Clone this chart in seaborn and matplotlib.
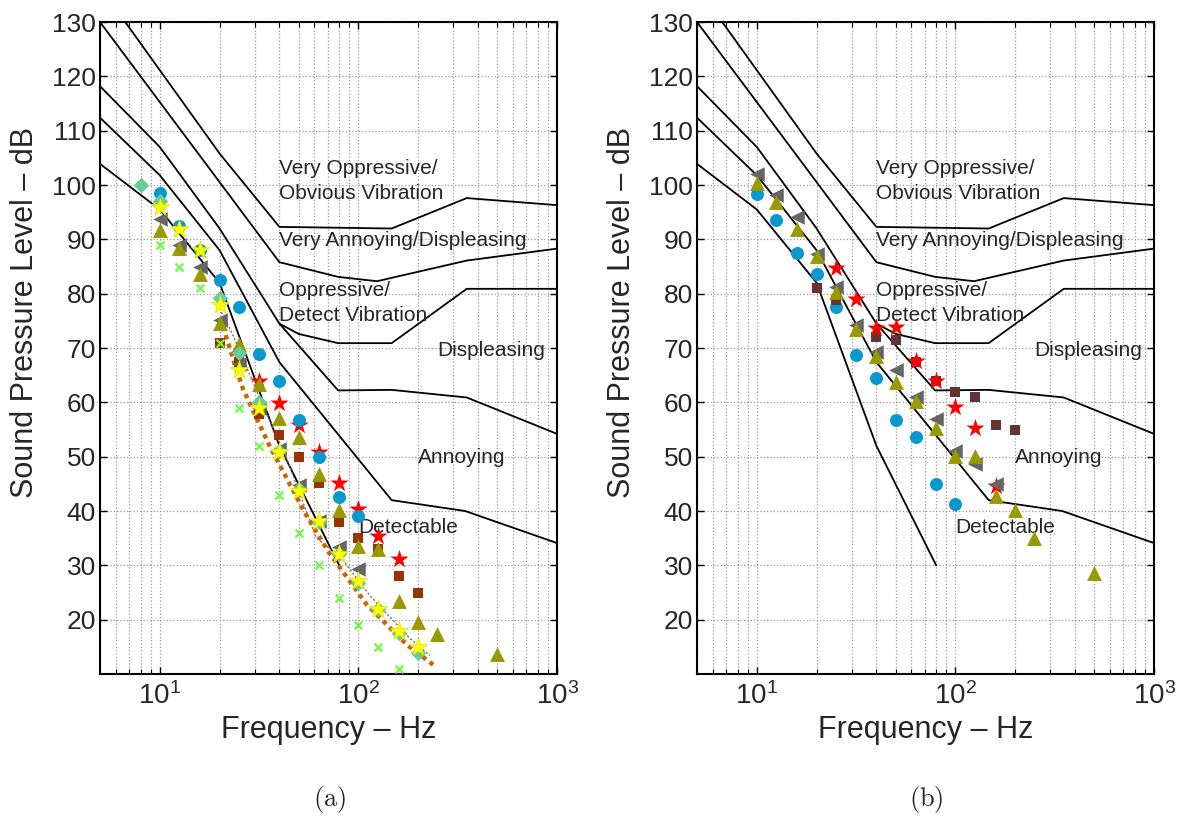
import numpy as np
import pandas as pd
import matplotlib
matplotlib.use('Agg')
import matplotlib.pyplot as plt
from matplotlib.ticker import FixedLocator, LogLocator, NullFormatter
import seaborn as sns

# ---- criterion curves (frequency Hz, level dB), same in both panels ----
vop_f = [6.7, 20, 40, 147, 351, 1000]
vop_db = [130, 105.8, 92.3, 92.0, 97.6, 96.3]
van_f = [5, 40, 79, 124, 351, 1000]
van_db = [130, 85.8, 83.1, 82.3, 86.1, 88.3]
opp_f = [5, 10, 20, 40, 50, 79, 147, 351, 1000]
opp_db = [118.2, 107, 92, 74.5, 72.6, 70.9, 70.9, 80.9, 80.9]
dsp_f = [40, 79, 147, 351, 1000]
dsp_db = [74.5, 62.2, 62.3, 60.9, 54.2]
ann_f = [5, 10, 20, 40, 147, 345, 1000]
ann_db = [112.4, 101.8, 88, 67.4, 42.0, 40.0, 34.1]
det_f = [5, 10, 20, 40, 80]
det_db = [103.9, 95.5, 82, 52, 30]

region_labels = ['Very Oppressive/', 'Obvious Vibration', 'Very Annoying/Displeasing',
                 'Oppressive/', 'Detect Vibration', 'Displeasing', 'Annoying', 'Detectable']
label_f = [40, 40, 40, 40, 40, 250, 200, 100]
label_db = [103.1, 98.5, 89.8, 80.6, 76.0, 69.5, 49.8, 37.0]

# ---- panel (a) data ----
a_diam_f = [8, 10, 20, 25, 31.5, 40, 50, 63, 80, 100, 125, 160, 200]
a_diam_db = [100, 97, 79.3, 69, 60, 51, 44, 38, 32, 26.8, 22, 17.6, 13.9]
a_ystar_f = [10, 12.5, 16, 20, 25, 31.5, 40, 50, 63, 80, 100, 125, 160, 200]
a_ystar_db = [96, 92, 88, 78, 66, 59, 50.8, 43.7, 38.2, 32, 27.1, 21.9, 17.9, 14.9]
a_circ_f = [10, 12.5, 16, 20, 25, 31.5, 40, 50, 63, 80, 100]
a_circ_db = [98.6, 92.5, 88.1, 82.6, 77.6, 68.9, 63.9, 56.8, 50.0, 42.6, 39.1]
a_rstar_f = [31.5, 40, 50, 63, 80, 100, 125, 160]
a_rstar_db = [63.9, 59.8, 55.9, 50.8, 45.2, 40.3, 35.4, 31.1]
a_sq_f = [20, 25, 31.5, 40, 50, 63, 80, 100, 125, 160, 200]
a_sq_db = [71, 67.4, 57.9, 54, 50, 45.1, 38, 35, 33.1, 28, 24.9]
a_olive_f = [10, 12.5, 16, 20, 25, 31.5, 40, 50, 63, 80, 100, 125, 160, 200, 250, 500]
a_olive_db = [91.8, 88.5, 83.6, 74.6, 70.8, 63.4, 57.1, 53.7, 46.9, 40.1, 33.6, 33.0, 23.4, 19.5, 17.4, 13.6]
a_gray_f = [10, 12.5, 16, 20, 25, 31.5, 40, 50, 63, 80, 100]
a_gray_db = [93.8, 88.9, 85, 75.1, 67, 59, 51.4, 44.8, 38.2, 33.3, 29.3]
a_x_f = [10, 12.5, 16, 20, 25, 31.5, 40, 50, 63, 80, 100, 125, 160]
a_x_db = [88.9, 84.9, 81, 70.9, 59, 52, 43, 36, 30, 24, 19, 15, 11]
a_orange_f = [20.2, 23.8, 26.2, 30, 35.7, 53.7, 70.3, 110, 175, 238]
a_orange_db = [75.5, 67.1, 62.5, 57.9, 52.0, 39.7, 32.6, 22.8, 15.4, 11.7]
a_hatch_f = [20.4, 22.8, 32.3, 43.6, 61.3, 81.7, 115, 181, 229]
a_hatch_db = [76.6, 73.2, 60.3, 49.6, 35.1, 31.4, 24.3, 16.6, 13.4]

# ---- panel (b) data ----
b_gray_f = [10, 12.5, 16, 20, 25, 31.5, 40, 50, 63, 80, 100, 125, 160]
b_gray_db = [102.1, 98.1, 94.1, 87.4, 81.2, 74.2, 69.2, 66.0, 60.9, 56.9, 51.1, 48.7, 44.9]
b_olive_f = [10, 12.5, 16, 20, 25, 31.5, 40, 50, 63, 80, 100, 125, 160, 200, 250, 500]
b_olive_db = [100.3, 96.9, 92.0, 86.9, 80.3, 73.5, 68.6, 63.7, 60.3, 55.3, 50.2, 50.2, 42.8, 40.1, 35.1, 28.6]
b_circ_f = [10, 12.5, 16, 20, 25, 31.5, 40, 50, 63, 80, 100]
b_circ_db = [98.4, 93.6, 87.5, 83.7, 77.5, 68.8, 64.5, 56.8, 53.7, 44.9, 41.3]
b_rstar_f = [25, 31.5, 40, 50, 63, 80, 100, 125, 160]
b_rstar_db = [84.8, 79.1, 73.6, 73.9, 67.6, 63.9, 59.2, 55.3, 44.6]
b_sq_f = [20, 25, 40, 50, 63, 80, 100, 125, 160, 200]
b_sq_db = [81.1, 78.8, 72.0, 71.4, 67.5, 64, 62.0, 61.0, 55.9, 55.0]

BLUE = '#0a99cf'
OLIVE = '#999900'
GRAY = '#666666'
RED = '#ff0000'
MINT = '#66cc99'
YEL = '#ffff00'
LIME = '#66ff33'

sns.set_style('white')
plt.rcParams['font.family'] = ['Liberation Sans', 'DejaVu Sans']
plt.rcParams['mathtext.fontset'] = 'cm'

fig = plt.figure(figsize=(11.78, 8.17), dpi=100)
ax_a = fig.add_axes([0.0849, 0.175, 0.388, 0.798])
ax_b = fig.add_axes([0.5917, 0.175, 0.388, 0.798])


def line(ax, f, db, **kw):
    sns.lineplot(x=f, y=db, ax=ax, sort=False, estimator=None, **kw)


def pts(ax, f, db, marker, s, color, ec=None, lw=0.0, z=3):
    kw = dict(marker=marker, s=s, color=color, linewidth=lw, zorder=z)
    if ec is not None:
        kw['edgecolor'] = ec
    sns.scatterplot(x=f, y=db, ax=ax, **kw)


def setup(ax):
    for f, db in [(vop_f, vop_db), (van_f, van_db), (opp_f, opp_db),
                  (dsp_f, dsp_db), (ann_f, ann_db), (det_f, det_db)]:
        line(ax, f, db, color='black', lw=1.3, zorder=2)
    for txt, f, db in zip(region_labels, label_f, label_db):
        ax.text(f, db, txt, fontsize=15, ha='left', va='center')
    ax.set_xscale('log')
    ax.set_xlim(5, 1000)
    ax.set_ylim(10, 130)
    ax.xaxis.set_major_locator(FixedLocator([10, 100, 1000]))
    ax.set_xticklabels([r'$\mathregular{10^{1}}$', r'$\mathregular{10^{2}}$',
                        r'$\mathregular{10^{3}}$'])
    ax.xaxis.set_minor_locator(LogLocator(base=10, subs=np.arange(2, 10)))
    ax.xaxis.set_minor_formatter(NullFormatter())
    ax.set_yticks(np.arange(20, 131, 10))
    ax.grid(True, which='major', ls=':', color='#9a9a9a', lw=0.9)
    ax.grid(True, which='minor', axis='x', ls=':', color='#9a9a9a', lw=0.9)
    ax.set_axisbelow(True)
    ax.tick_params(which='both', direction='in', top=True, right=True,
                   bottom=True, left=True, color='black')
    ax.tick_params(which='major', length=5, width=1.0, labelsize=19)
    ax.tick_params(which='minor', length=3.5, width=0.8)
    ax.tick_params(axis='x', pad=6, labelsize=20)
    ax.tick_params(axis='y', pad=3)
    for sp in ax.spines.values():
        sp.set_color('black')
        sp.set_linewidth(1.5)
    ax.set_xlabel('Frequency – Hz', fontsize=22)
    ax.set_ylabel('Sound Pressure Level – dB', fontsize=22)
    ax.xaxis.set_label_coords(0.5, -0.063)
    ax.yaxis.set_label_coords(-0.131, 0.555)


setup(ax_a)
setup(ax_b)

# panel (a)
line(ax_a, a_hatch_f, a_hatch_db, color='#8c6464', lw=1.0, linestyle=(0, (1.5, 1.5)), zorder=2.5)
line(ax_a, a_orange_f, a_orange_db, color='#cc6600', lw=3.2, linestyle=(0, (1, 1)), zorder=2.6)
pts(ax_a, a_rstar_f, a_rstar_db, '*', 190, RED, z=3)
pts(ax_a, a_sq_f, a_sq_db, 's', 60, '#993300', z=3.1)
pts(ax_a, a_circ_f, a_circ_db, 'o', 88, BLUE, z=3.2)
pts(ax_a, a_gray_f, a_gray_db, '<', 110, GRAY, z=3.3)
pts(ax_a, a_olive_f, a_olive_db, '^', 115, OLIVE, z=3.4)
pts(ax_a, a_diam_f, a_diam_db, 'D', 62, MINT, z=3.5)
pts(ax_a, a_ystar_f, a_ystar_db, '*', 190, YEL, ec='#e0e000', lw=0.5, z=3.6)
pts(ax_a, a_x_f, a_x_db, 'x', 32, LIME, lw=1.5, z=3.7)

# panel (b)
pts(ax_b, b_circ_f, b_circ_db, 'o', 88, BLUE, z=3)
pts(ax_b, b_sq_f, b_sq_db, 's', 60, '#663333', z=3.1)
pts(ax_b, b_rstar_f, b_rstar_db, '*', 190, RED, z=3.2)
pts(ax_b, b_gray_f, b_gray_db, '<', 110, GRAY, z=3.3)
pts(ax_b, b_olive_f, b_olive_db, '^', 115, OLIVE, z=3.4)

fig.text(0.280, 0.021, r'$(\mathrm{a})$', fontsize=19, ha='center', va='center')
fig.text(0.786, 0.021, r'$(\mathrm{b})$', fontsize=19, ha='center', va='center')

fig.savefig('out.png', dpi=100)
plt.close(fig)
